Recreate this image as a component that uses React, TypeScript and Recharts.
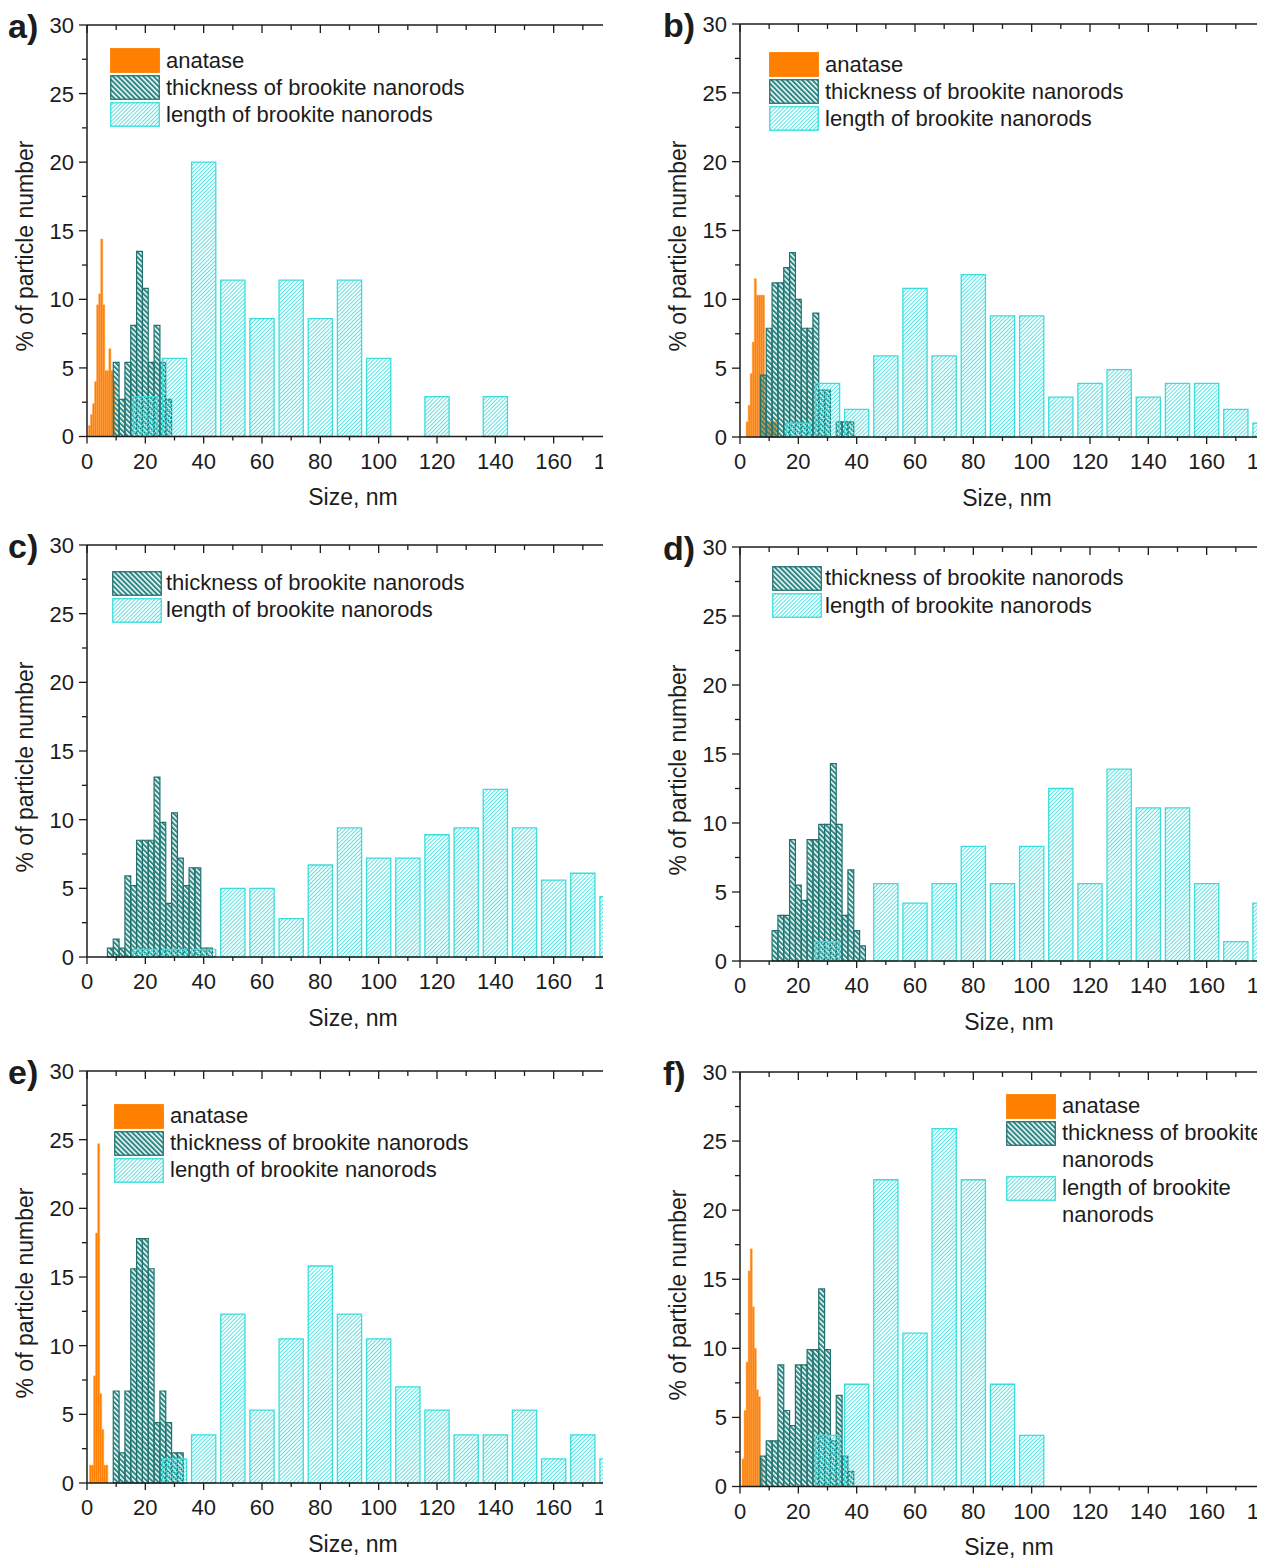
import React from "react";
import { ComposedChart, XAxis, YAxis, ReferenceArea, ReferenceLine } from "recharts";

// axis ticks (nm and % of particle number)
const X_TICKS = [0, 10, 20, 30, 40, 50, 60, 70, 80, 90, 100, 110, 120, 130, 140, 150, 160, 170, 180];
const Y_TICKS = [0, 2.5, 5, 7.5, 10, 12.5, 15, 17.5, 20, 22.5, 25, 27.5, 30];

// bin centres, nm
const LENGTH_BINS = [20, 30, 40, 50, 60, 70, 80, 90, 100, 110, 120, 130, 140, 150, 160, 170, 180];
const THICKNESS_BINS = [8, 10, 12, 14, 16, 18, 20, 22, 24, 26, 28, 30, 32, 34, 36, 38, 40, 42];

// length of brookite nanorods, %
const lengthA = [2.9, 5.7, 20.0, 11.4, 8.6, 11.4, 8.6, 11.4, 5.7, 0, 2.9, 0, 2.9, 0, 0, 0, 0];
const lengthB = [1.0, 3.9, 2.0, 5.9, 10.8, 5.9, 11.8, 8.8, 8.8, 2.9, 3.9, 4.9, 2.9, 3.9, 3.9, 2.0, 1.0];
const lengthC = [0.55, 0.55, 0.55, 5.0, 5.0, 2.8, 6.7, 9.4, 7.2, 7.2, 8.9, 9.4, 12.2, 9.4, 5.6, 6.1, 4.4];
const lengthD = [0, 1.4, 0, 5.6, 4.2, 5.6, 8.3, 5.6, 8.3, 12.5, 5.6, 13.9, 11.1, 11.1, 5.6, 1.4, 4.2];
const lengthE = [0, 1.75, 3.5, 12.3, 5.3, 10.5, 15.8, 12.3, 10.5, 7.0, 5.3, 3.5, 3.5, 5.3, 1.75, 3.5, 1.75];
const lengthF = [0, 3.7, 7.4, 22.2, 11.1, 25.9, 22.2, 7.4, 3.7, 0, 0, 0, 0, 0, 0, 0, 0];

// thickness of brookite nanorods, %
const thicknessA = [0, 5.4, 2.7, 5.4, 8.1, 13.5, 10.8, 5.4, 8.1, 5.4, 2.7, 0, 0, 0, 0, 0, 0, 0];
const thicknessB = [4.5, 7.9, 11.2, 11.2, 12.3, 13.4, 10.0, 7.9, 7.9, 9.0, 3.4, 3.4, 0, 1.1, 1.1, 1.1, 0, 0];
const thicknessC = [0.65, 1.3, 0.65, 5.9, 5.2, 8.5, 8.5, 8.5, 13.1, 9.8, 3.9, 10.5, 7.2, 5.2, 6.5, 6.5, 0.65, 0.65];
const thicknessD = [0, 0, 2.2, 3.3, 3.3, 8.8, 5.5, 4.4, 8.8, 8.8, 9.9, 9.9, 14.3, 9.9, 3.3, 6.6, 2.2, 1.1];
const thicknessE = [0, 6.7, 2.2, 6.7, 15.6, 17.8, 17.8, 15.6, 4.4, 6.7, 4.4, 2.2, 2.2, 0, 0, 0, 0, 0];
const thicknessF = [2.2, 3.3, 3.3, 8.8, 5.5, 4.4, 8.8, 8.8, 9.9, 9.9, 14.3, 9.9, 3.3, 6.6, 2.2, 1.1, 0, 0];

// anatase, bin centres (nm) and %
const anataseAX = [0.85, 1.55, 2.25, 2.95, 3.65, 4.35, 5.05, 5.75, 6.45, 7.15, 7.85, 8.55, 9.25];
const anataseA = [0.8, 1.6, 2.4, 4.0, 9.6, 10.4, 14.4, 9.6, 4.8, 4.8, 6.4, 4.8, 4.0];
const anataseBX = [2.45, 3.15, 3.85, 4.55, 5.25, 5.95, 6.65, 7.35, 8.05, 8.75, 9.45, 10.15, 10.85, 11.55, 12.25];
const anataseB = [1.1, 2.3, 4.6, 6.9, 11.5, 10.3, 10.3, 10.3, 10.3, 2.3, 1.1, 1.1, 1.1, 1.1, 1.1];
const anataseEX = [1.2, 1.9, 2.6, 3.3, 4.0, 4.7, 5.4, 6.1, 6.8];
const anataseE = [1.3, 1.3, 7.8, 18.2, 24.7, 6.5, 3.9, 1.3, 1.3];
const anataseFX = [1.05, 1.75, 2.45, 3.15, 3.85, 4.55, 5.25, 5.95, 6.65, 7.35];
const anataseF = [2.0, 5.5, 9.0, 15.6, 17.2, 13.0, 10.0, 7.0, 6.5, 2.0];

const FONT = "'Liberation Sans', Arial, Helvetica, sans-serif";
const AXIS = "#1c1c1c";
const ORANGE = "#ff7f00";
const TEAL = "#22716e";
const CYAN = "#3cdcdc";

const YW = 72; // y axis width
const XH = 48; // x axis height
const MT = 16; // top margin
const PLOT_W = 525;
const TICK_MARGIN = 10;

type Bin = { x1: number; x2: number; y: number };
const toBins = (centres: number[], values: number[], half: number): Bin[] =>
  centres.map((c, i) => ({ x1: c - half, x2: c + half, y: values[i] })).filter((b) => b.y > 0);

type Kind = "anatase" | "thick" | "length";
type LegendRow = { kind: Kind; y: number; lines: string[] };

const makeXTick = (plotH: number) => (props: any) => {
  const { x, y, payload } = props;
  const axisY = y - TICK_MARGIN;
  const v = payload.value;
  const major = v % 20 === 0;
  return (
    <g>
      <line x1={x} x2={x} y1={axisY} y2={axisY + (major ? 7 : 4)} stroke={AXIS} strokeWidth={1.3} />
      <line x1={x} x2={x} y1={axisY - plotH} y2={axisY - plotH + (major ? 8 : 5)} stroke={AXIS} strokeWidth={1.3} />
      {major && (
        <text x={x} y={axisY + 32} textAnchor="middle" fontSize={22} fill={AXIS} fontFamily={FONT}>
          {v}
        </text>
      )}
    </g>
  );
};

const YTick = (props: any) => {
  const { x, y, payload } = props;
  const axisX = x + TICK_MARGIN;
  const v = payload.value;
  const major = v % 5 === 0;
  return (
    <g>
      <line x1={axisX} x2={axisX - (major ? 8 : 5)} y1={y} y2={y} stroke={AXIS} strokeWidth={1.3} />
      {major && (
        <text x={axisX - 13} y={y} dy="0.36em" textAnchor="end" fontSize={22} fill={AXIS} fontFamily={FONT}>
          {v}
        </text>
      )}
    </g>
  );
};

function Swatch({ kind }: { kind: Kind }) {
  const fill = kind === "anatase" ? ORANGE : kind === "thick" ? "url(#hatchThick)" : "url(#hatchLength)";
  const stroke = kind === "anatase" ? ORANGE : kind === "thick" ? TEAL : CYAN;
  return (
    <svg width={50} height={25} style={{ display: "block" }}>
      <rect x={0.75} y={0.75} width={48.5} height={23.5} fill={fill} stroke={stroke} strokeWidth={1.3} />
    </svg>
  );
}

interface PanelProps {
  letter: string;
  left: number;
  plotLeft: number;
  plotTop: number;
  plotH: number;
  clipRight: number;
  titleX: number;
  anatase: Bin[];
  thickness: Bin[];
  length: Bin[];
  swatchX: number;
  textX: number;
  legend: LegendRow[];
}

function Panel(p: PanelProps) {
  const top = p.plotTop - 30;
  const chartH = MT + p.plotH + XH;
  const XTick = makeXTick(p.plotH);
  const rel = (px: number) => px - p.left;
  const relY = (py: number) => py - top;
  const yCentre = p.plotTop + p.plotH / 2 + 16;
  return (
    <div
      style={{
        position: "absolute",
        left: p.left,
        top,
        width: p.clipRight - p.left,
        height: p.plotH + 110,
        overflow: "hidden",
        fontFamily: FONT,
        color: AXIS,
      }}
    >
      <div style={{ position: "absolute", left: p.plotLeft - YW - p.left, top: 30 - MT }}>
        <ComposedChart
          width={YW + PLOT_W + 4}
          height={chartH}
          margin={{ top: MT, right: 4, bottom: 0, left: 0 }}
          data={LENGTH_BINS.map((x) => ({ x }))}
        >
          <XAxis
            type="number"
            dataKey="x"
            domain={[0, 180]}
            ticks={X_TICKS}
            interval={0}
            allowDataOverflow
            height={XH}
            tickLine={false}
            tickSize={0}
            tickMargin={TICK_MARGIN}
            tick={XTick}
            axisLine={{ stroke: AXIS, strokeWidth: 1.5 }}
          />
          <YAxis
            type="number"
            domain={[0, 30]}
            ticks={Y_TICKS}
            interval={0}
            allowDataOverflow
            width={YW}
            tickLine={false}
            tickSize={0}
            tickMargin={TICK_MARGIN}
            tick={YTick}
            axisLine={{ stroke: AXIS, strokeWidth: 1.5 }}
          />
          <ReferenceLine y={30} stroke={AXIS} strokeWidth={1.5} ifOverflow="visible" />
          {p.anatase.map((b, i) => (
            <ReferenceArea
              key={`an-${i}`}
              x1={b.x1}
              x2={b.x2}
              y1={0}
              y2={b.y}
              fill={ORANGE}
              fillOpacity={1}
              stroke="#ffa04a"
              strokeWidth={0.5}
              ifOverflow="visible"
            />
          ))}
          {p.thickness.map((b, i) => (
            <ReferenceArea
              key={`th-${i}`}
              x1={b.x1}
              x2={b.x2}
              y1={0}
              y2={b.y}
              fill="url(#hatchThick)"
              fillOpacity={1}
              stroke={TEAL}
              strokeWidth={1.2}
              ifOverflow="visible"
            />
          ))}
          {p.length.map((b, i) => (
            <ReferenceArea
              key={`le-${i}`}
              x1={b.x1}
              x2={b.x2}
              y1={0}
              y2={b.y}
              fill="url(#hatchLength)"
              fillOpacity={1}
              stroke={CYAN}
              strokeWidth={1.3}
              ifOverflow="visible"
            />
          ))}
        </ComposedChart>
      </div>

      {/* panel letter */}
      <div
        style={{
          position: "absolute",
          left: rel(p.left === 0 ? 8 : 663),
          top: relY(p.plotTop + 1) - 20,
          fontSize: 34,
          fontWeight: "bold",
          lineHeight: "40px",
        }}
      >
        {p.letter}
      </div>

      {/* y title */}
      <div
        style={{
          position: "absolute",
          left: rel(p.left === 0 ? 25 : 678),
          top: relY(yCentre),
          transform: "translate(-50%, -50%) rotate(-90deg)",
          fontSize: 23,
          whiteSpace: "nowrap",
          lineHeight: "26px",
        }}
      >
        % of particle number
      </div>

      {/* x title */}
      <div
        style={{
          position: "absolute",
          left: rel(p.titleX),
          top: relY(p.plotTop + p.plotH + 61),
          transform: "translate(-50%, -50%)",
          fontSize: 23,
          whiteSpace: "nowrap",
          lineHeight: "26px",
        }}
      >
        Size, nm
      </div>

      {/* legend */}
      {p.legend.map((row) => (
        <React.Fragment key={row.kind}>
          <div style={{ position: "absolute", left: rel(p.swatchX), top: relY(row.y) - 12.5 }}>
            <Swatch kind={row.kind} />
          </div>
          {row.lines.map((line, j) => (
            <div
              key={line}
              style={{
                position: "absolute",
                left: rel(p.textX),
                top: relY(row.y + j * 27) - 12,
                fontSize: 22,
                lineHeight: "24px",
                whiteSpace: "nowrap",
              }}
            >
              {line}
            </div>
          ))}
        </React.Fragment>
      ))}
    </div>
  );
}

const L_HALF = 4.15;
const T_HALF = 1;
const A_HALF = 0.35;

const LEG_THICK = "thickness of brookite nanorods";
const LEG_LENGTH = "length of brookite nanorods";

export default function App() {
  const panels: PanelProps[] = [
    {
      letter: "a)",
      left: 0,
      plotLeft: 86.5,
      plotTop: 24.5,
      plotH: 411.5,
      clipRight: 603,
      titleX: 353,
      anatase: toBins(anataseAX, anataseA, A_HALF),
      thickness: toBins(THICKNESS_BINS, thicknessA, T_HALF),
      length: toBins(LENGTH_BINS, lengthA, L_HALF),
      swatchX: 110,
      textX: 166,
      legend: [
        { kind: "anatase", y: 60.5, lines: ["anatase"] },
        { kind: "thick", y: 87.5, lines: [LEG_THICK] },
        { kind: "length", y: 114.5, lines: [LEG_LENGTH] },
      ],
    },
    {
      letter: "b)",
      left: 655,
      plotLeft: 740,
      plotTop: 23.5,
      plotH: 413,
      clipRight: 1257,
      titleX: 1007,
      anatase: toBins(anataseBX, anataseB, A_HALF),
      thickness: toBins(THICKNESS_BINS, thicknessB, T_HALF),
      length: toBins(LENGTH_BINS, lengthB, L_HALF),
      swatchX: 769,
      textX: 825,
      legend: [
        { kind: "anatase", y: 64.5, lines: ["anatase"] },
        { kind: "thick", y: 91.5, lines: [LEG_THICK] },
        { kind: "length", y: 118.5, lines: [LEG_LENGTH] },
      ],
    },
    {
      letter: "c)",
      left: 0,
      plotLeft: 86.5,
      plotTop: 544.5,
      plotH: 412,
      clipRight: 603,
      titleX: 353,
      anatase: [],
      thickness: toBins(THICKNESS_BINS, thicknessC, T_HALF),
      length: toBins(LENGTH_BINS, lengthC, L_HALF),
      swatchX: 112,
      textX: 166,
      legend: [
        { kind: "thick", y: 583, lines: [LEG_THICK] },
        { kind: "length", y: 610, lines: [LEG_LENGTH] },
      ],
    },
    {
      letter: "d)",
      left: 655,
      plotLeft: 740,
      plotTop: 546.5,
      plotH: 414,
      clipRight: 1257,
      titleX: 1009,
      anatase: [],
      thickness: toBins(THICKNESS_BINS, thicknessD, T_HALF),
      length: toBins(LENGTH_BINS, lengthD, L_HALF),
      swatchX: 772,
      textX: 825,
      legend: [
        { kind: "thick", y: 578, lines: [LEG_THICK] },
        { kind: "length", y: 605.5, lines: [LEG_LENGTH] },
      ],
    },
    {
      letter: "e)",
      left: 0,
      plotLeft: 86.5,
      plotTop: 1071,
      plotH: 412,
      clipRight: 603,
      titleX: 353,
      anatase: toBins(anataseEX, anataseE, A_HALF),
      thickness: toBins(THICKNESS_BINS, thicknessE, T_HALF),
      length: toBins(LENGTH_BINS, lengthE, L_HALF),
      swatchX: 114,
      textX: 170,
      legend: [
        { kind: "anatase", y: 1116, lines: ["anatase"] },
        { kind: "thick", y: 1143, lines: [LEG_THICK] },
        { kind: "length", y: 1170, lines: [LEG_LENGTH] },
      ],
    },
    {
      letter: "f)",
      left: 655,
      plotLeft: 740,
      plotTop: 1071.5,
      plotH: 414.5,
      clipRight: 1257,
      titleX: 1009,
      anatase: toBins(anataseFX, anataseF, A_HALF),
      thickness: toBins(THICKNESS_BINS, thicknessF, T_HALF),
      length: toBins(LENGTH_BINS, lengthF, L_HALF),
      swatchX: 1006,
      textX: 1062,
      legend: [
        { kind: "anatase", y: 1106, lines: ["anatase"] },
        { kind: "thick", y: 1133, lines: ["thickness of brookite", "nanorods"] },
        { kind: "length", y: 1188, lines: ["length of brookite", "nanorods"] },
      ],
    },
  ];

  return (
    <div style={{ position: "absolute", left: 0, top: 0, width: 1271, height: 1562, background: "#fff" }}>
      <svg width={0} height={0} style={{ position: "absolute" }}>
        <defs>
          <pattern id="hatchThick" patternUnits="userSpaceOnUse" width={3.6} height={3.6} patternTransform="rotate(-45)">
            <rect x={0} y={0} width={2.1} height={3.6} fill="#2b8884" />
          </pattern>
          <pattern id="hatchLength" patternUnits="userSpaceOnUse" width={2.8} height={2.8} patternTransform="rotate(45)">
            <rect x={0} y={0} width={1} height={2.8} fill="#55e2e2" />
          </pattern>
        </defs>
      </svg>
      {panels.map((p) => (
        <Panel key={p.letter} {...p} />
      ))}
    </div>
  );
}
